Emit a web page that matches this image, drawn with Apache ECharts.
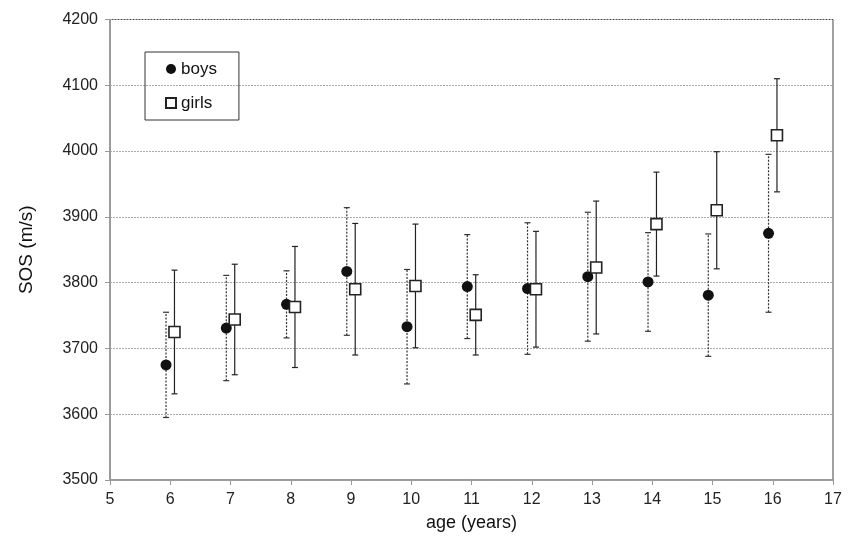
<!DOCTYPE html>
<html>
<head>
<meta charset="utf-8">
<script src="https://cdn.jsdelivr.net/npm/echarts@6/dist/echarts.min.js"></script>
<style>html,body{margin:0;padding:0;background:#fff}#c{width:853px;height:546px}</style>
</head>
<body>
<div id="c"></div>
<script>
const ages = [6, 7, 8, 9, 10, 11, 12, 13, 14, 15, 16];
const boysMean = [3675, 3731, 3767, 3817, 3733, 3794, 3791, 3809, 3801, 3781, 3875];
const boysSD   = [80, 80, 51, 97, 87, 79, 100, 98, 75, 93, 120];
const girlsMean = [3725, 3744, 3763, 3790, 3795, 3751, 3790, 3823, 3889, 3910, 4024];
const girlsSD   = [94, 84, 92, 100, 94, 61, 88, 101, 79, 89, 86];
const boysOffset = -0.07;
const girlsOffset = 0.07;
const yTicks = [3500, 3600, 3700, 3800, 3900, 4000, 4100, 4200];
const xTicks = [5, 6, 7, 8, 9, 10, 11, 12, 13, 14, 15, 16, 17];

const FONT = '"Liberation Sans", Arial, sans-serif';

const boysPts = ages.map((a, i) => [a + boysOffset, boysMean[i]]);
const girlsPts = ages.map((a, i) => [a + girlsOffset, girlsMean[i]]);
const boysErr = ages.map((a, i) => [a + boysOffset, boysMean[i] - boysSD[i], boysMean[i] + boysSD[i]]);
const girlsErr = ages.map((a, i) => [a + girlsOffset, girlsMean[i] - girlsSD[i], girlsMean[i] + girlsSD[i]]);

function errRender(dash, color) {
  return function (params, api) {
    const x = api.value(0);
    const lo = api.coord([x, api.value(1)]);
    const hi = api.coord([x, api.value(2)]);
    const w = 3;
    const style = { stroke: color, lineWidth: 1.2, lineDash: dash };
    const capStyle = { stroke: color, lineWidth: 1.2 };
    return {
      type: 'group',
      children: [
        { type: 'line', shape: { x1: lo[0], y1: lo[1], x2: hi[0], y2: hi[1] }, style: style },
        { type: 'line', shape: { x1: lo[0] - w, y1: lo[1], x2: lo[0] + w, y2: lo[1] }, style: capStyle },
        { type: 'line', shape: { x1: hi[0] - w, y1: hi[1], x2: hi[0] + w, y2: hi[1] }, style: capStyle }
      ]
    };
  };
}

const chart = echarts.init(document.getElementById('c'), null, { renderer: 'canvas' });
chart.setOption({
  animation: false,
  backgroundColor: '#fff',
  grid: {
    left: 110, right: 20, top: 19.5, bottom: 66,
    show: true, borderColor: '#444', borderWidth: 1
  },
  legend: {
    left: 145, top: 52,
    orient: 'vertical',
    data: ['boys', 'girls'],
    itemWidth: 10, itemHeight: 10,
    itemGap: 14,
    padding: [7, 22, 7, 20],
    borderColor: '#333', borderWidth: 1,
    textStyle: { fontFamily: FONT, fontSize: 17, color: '#111', lineHeight: 20 },
    selectedMode: false
  },
  xAxis: {
    type: 'value', min: 5, max: 17, interval: 1,
    name: 'age (years)', nameLocation: 'middle', nameGap: 34,
    nameTextStyle: { fontFamily: FONT, fontSize: 18, color: '#111' },
    axisLine: { show: true, onZero: false, lineStyle: { color: '#999', width: 1.5 } },
    axisTick: { show: true, inside: false, length: 5, lineStyle: { color: '#999' } },
    axisLabel: { fontFamily: FONT, fontSize: 16, color: '#222', margin: 12,
      formatter: v => String(v) },
    splitLine: { show: false }
  },
  yAxis: {
    type: 'value', min: 3500, max: 4200, interval: 100,
    name: 'SOS (m/s)', nameLocation: 'middle', nameGap: 74, nameRotate: 90,
    nameTextStyle: { fontFamily: FONT, fontSize: 19, color: '#111' },
    axisLine: { show: true, lineStyle: { color: '#999', width: 1.5 } },
    axisTick: { show: true, inside: false, length: 5, lineStyle: { color: '#999' } },
    axisLabel: { fontFamily: FONT, fontSize: 16, color: '#222', margin: 12,
      formatter: v => String(v) },
    splitLine: { show: true, lineStyle: { color: '#aaa', type: [2, 1], width: 1 } }
  },
  series: [
    {
      name: 'boysErr', type: 'custom', data: boysErr,
      renderItem: errRender([2, 1.5], '#333'), z: 2, silent: true
    },
    {
      name: 'girlsErr', type: 'custom', data: girlsErr,
      renderItem: errRender(null, '#222'), z: 2, silent: true
    },
    {
      name: 'boys', type: 'scatter', data: boysPts,
      symbol: 'circle', symbolSize: 11,
      itemStyle: { color: '#111', opacity: 1 }, z: 3
    },
    {
      name: 'girls', type: 'scatter', data: girlsPts,
      symbol: 'rect', symbolSize: 11,
      itemStyle: { color: '#fff', borderColor: '#222', borderWidth: 1.6, opacity: 1 }, z: 4
    }
  ]
});
</script>
</body>
</html>
